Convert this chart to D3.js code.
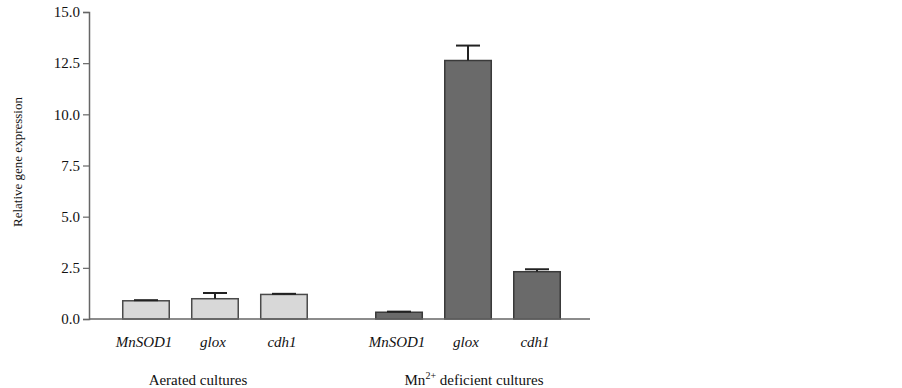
<!DOCTYPE html>
<html>
<head>
<meta charset="utf-8">
<script src="https://cdn.jsdelivr.net/npm/d3@7"></script>
<style>
  body { margin: 0; background: #fff; }
  text { font-family: 'Liberation Serif', 'Times New Roman', serif; }
</style>
</head>
<body>
<div id="chart"></div>
<script>
// data
const groups = ['Aerated cultures', 'Mn deficient cultures']
const genes = ['MnSOD1', 'glox', 'cdh1']
const aeratedValues = [0.89, 0.99, 1.2]
const aeratedErrors = [0.03, 0.28, 0.03]
const mnValues = [0.33, 12.63, 2.31]
const mnErrors = [0.03, 0.73, 0.12]
const yTicks = [0, 2.5, 5, 7.5, 10, 12.5, 15]

const rows = []
genes.forEach((g, i) => {
  rows.push({ group: groups[0], gene: g, value: aeratedValues[i], err: aeratedErrors[i] })
})
genes.forEach((g, i) => {
  rows.push({ group: groups[1], gene: g, value: mnValues[i], err: mnErrors[i] })
})

let width = 902
let height = 388

let svg = d3.select('#chart')
  .append('svg')
  .attr('width', width)
  .attr('height', height)

const axisX = 89
const y = d3.scaleLinear().domain([0, 15]).range([319, 12])

const x0 = d3.scaleBand().domain(groups).range([111.5, 571.5]).paddingInner(0.182).paddingOuter(0)
const x1 = d3.scaleBand().domain(genes).range([0, x0.bandwidth()]).paddingInner(0.326).paddingOuter(0.163)

const fills = { 'Aerated cultures': '#d8d8d8', 'Mn deficient cultures': '#6a6a6a' }
const strokes = { 'Aerated cultures': '#4a4a4a', 'Mn deficient cultures': '#3a3a3a' }

// bars
svg.selectAll('.bar')
  .data(rows)
  .enter()
  .append('rect')
  .attr('class', 'bar')
  .attr('x', d => x0(d.group) + x1(d.gene))
  .attr('width', x1.bandwidth())
  .attr('y', d => y(d.value))
  .attr('height', d => y(0) - y(d.value))
  .attr('fill', d => fills[d.group])
  .attr('stroke', d => strokes[d.group])
  .attr('stroke-width', 1.5)

// error bars (upper only)
const eb = svg.selectAll('.err')
  .data(rows)
  .enter()
  .append('g')
  .attr('class', 'err')
  .attr('transform', d => 'translate(' + (x0(d.group) + x1(d.gene) + x1.bandwidth() / 2) + ',0)')

eb.append('line')
  .attr('x1', 0).attr('x2', 0)
  .attr('y1', d => y(d.value))
  .attr('y2', d => y(d.value + d.err))
  .attr('stroke', '#222')
  .attr('stroke-width', 2)

eb.append('line')
  .attr('x1', -12).attr('x2', 12)
  .attr('y1', d => y(d.value + d.err))
  .attr('y2', d => y(d.value + d.err))
  .attr('stroke', '#222')
  .attr('stroke-width', 2)

// y axis
const yAxis = svg.append('g')
  .attr('transform', 'translate(' + axisX + ',0)')
  .call(d3.axisLeft(y).tickValues(yTicks).tickFormat(d3.format('.1f')).tickSize(6).tickPadding(3))

yAxis.select('.domain').attr('stroke', '#666').attr('stroke-width', 1.5)
yAxis.selectAll('.tick line').attr('stroke', '#666').attr('stroke-width', 1.2)
yAxis.selectAll('.tick text')
  .attr('fill', '#111')
  .style('font-family', "'Liberation Serif', serif")
  .style('font-size', '15px')

// baseline
svg.append('line')
  .attr('x1', axisX).attr('x2', 590)
  .attr('y1', y(0)).attr('y2', y(0))
  .attr('stroke', '#666')
  .attr('stroke-width', 1.5)

// gene labels
svg.selectAll('.gene-label')
  .data(rows)
  .enter()
  .append('text')
  .attr('class', 'gene-label')
  .attr('x', d => x0(d.group) + x1(d.gene) + x1.bandwidth() / 2 - 2)
  .attr('y', 347)
  .attr('text-anchor', 'middle')
  .style('font-style', 'italic')
  .style('font-size', '15px')
  .attr('fill', '#111')
  .text(d => d.gene)

// group labels
svg.append('text')
  .attr('x', x0(groups[0]) + x0.bandwidth() / 2 - 17)
  .attr('y', 385)
  .attr('text-anchor', 'middle')
  .style('font-size', '15px')
  .attr('fill', '#111')
  .text(groups[0])

const mnLabel = svg.append('text')
  .attr('x', x0(groups[1]) + x0.bandwidth() / 2 + 6)
  .attr('y', 385)
  .attr('text-anchor', 'middle')
  .style('font-size', '15px')
  .attr('fill', '#111')
mnLabel.append('tspan').text('Mn')
mnLabel.append('tspan').attr('dy', -6).style('font-size', '10px').text('2+')
mnLabel.append('tspan').attr('dy', 6).text(' deficient cultures')

// y title
svg.append('text')
  .attr('transform', 'translate(22,' + 162 + ') rotate(-90)')
  .attr('text-anchor', 'middle')
  .style('font-size', '13px')
  .attr('fill', '#111')
  .text('Relative gene expression')
</script>
</body>
</html>
